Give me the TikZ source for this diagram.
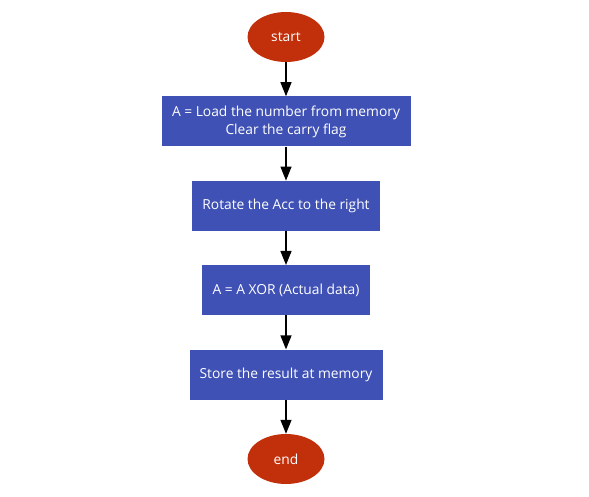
\documentclass[tikz,border=0pt]{standalone}
\usepackage{fontspec}
\setmainfont{Open Sans}
\usetikzlibrary{positioning,arrows.meta,chains,shapes.geometric}
\definecolor{flowred}{HTML}{C1300B}
\definecolor{flowblue}{HTML}{3F51B5}

\begin{document}
\begin{tikzpicture}[
    % cadena vertical
    start chain=going below,
    node distance=34pt,
    % Estilos
    term/.style={ellipse, fill=flowred, text=white, minimum width=77pt, minimum height=50pt, inner sep=0pt, font=\fontsize{13.8}{18}\selectfont, on chain},
    proc/.style={rectangle, fill=flowblue, text=white, minimum height=50pt, inner sep=0pt, align=center, font=\fontsize{13.8}{18}\selectfont, on chain},
    arr/.style={-{Triangle[length=14pt, width=11pt]}, line width=1.2pt}
]
\useasboundingbox (0,0) rectangle (589pt,-497pt);

% --- Nodos ---
\node[term, at={(286pt,-37pt)}] (start) {start};
\node[proc, minimum width=249pt] (load)   {A = Load the number from memory\\Clear the carry flag};
\node[proc, minimum width=188pt] (rotate) {Rotate the Acc to the right};
\node[proc, minimum width=168pt] (xor)    {A = A XOR (Actual data)};
\node[proc, minimum width=193pt] (store)  {Store the result at memory};
\node[term] (end) {end};

% --- Conexiones ---
\draw[arr] (start)  -- (load);
\draw[arr] (load)   -- (rotate);
\draw[arr] (rotate) -- (xor);
\draw[arr] (xor)    -- (store);
\draw[arr] (store)  -- (end);

\end{tikzpicture}
\end{document}
